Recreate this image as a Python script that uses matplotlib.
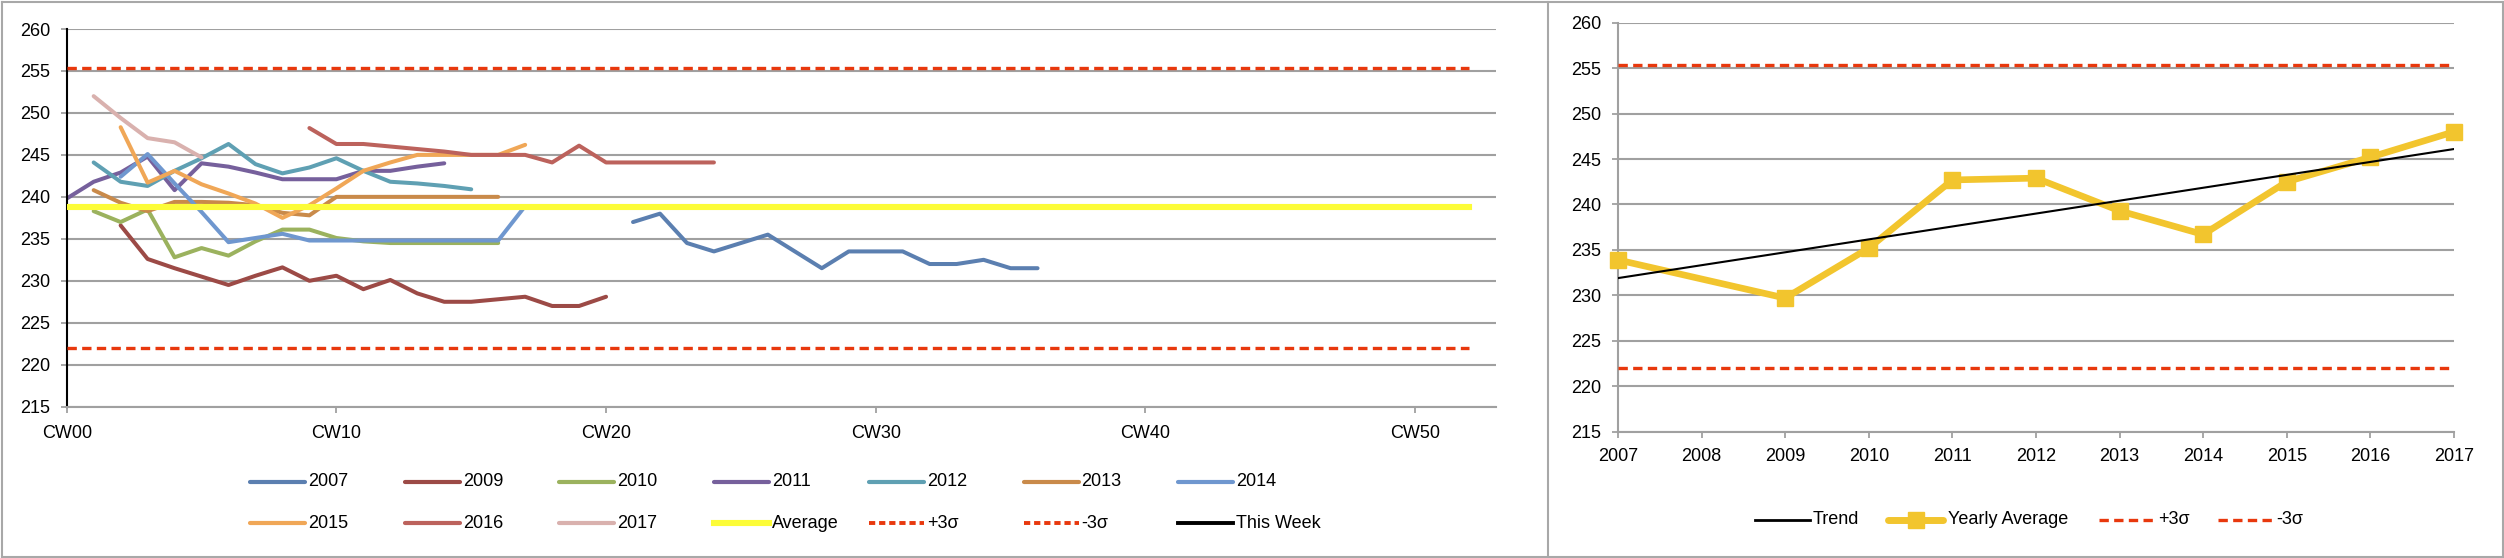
import matplotlib
matplotlib.use('Agg')
import matplotlib.pyplot as plt
from matplotlib.lines import Line2D
import numpy as np

plt.rcParams['font.family'] = ['Liberation Sans', 'DejaVu Sans']
plt.rcParams['font.size'] = 13

# ---------------- data: weekly chart ----------------
week_tick_pos = [0, 10, 20, 30, 40, 50]
week_tick_labels = ['CW00', 'CW10', 'CW20', 'CW30', 'CW40', 'CW50']
n_weeks = 53

y2007_start = 21
y2007 = [237.0, 238.0, 234.5, 233.5, 234.5, 235.5, 233.5, 231.5, 233.5, 233.5,
         233.5, 232.0, 232.0, 232.5, 231.5, 231.5]
y2009_start = 2
y2009 = [236.6, 232.6, 231.5, 230.5, 229.5, 230.6, 231.6, 230.0, 230.6, 229.0,
         230.1, 228.5, 227.5, 227.5, 227.8, 228.1, 227.0, 227.0, 228.1]
y2010_start = 1
y2010 = [238.3, 237.0, 238.5, 232.8, 233.9, 233.0, 234.7, 236.1, 236.1, 235.1,
         234.7, 234.5, 234.5, 234.5, 234.5, 234.5]
y2011_start = 0
y2011 = [239.8, 241.8, 242.9, 244.8, 240.8, 244.0, 243.6, 242.9, 242.1, 242.1,
         242.1, 243.1, 243.1, 243.6, 244.0]
y2012_start = 1
y2012 = [244.1, 241.8, 241.3, 243.1, 244.6, 246.3, 243.9, 242.8, 243.5, 244.6,
         243.1, 241.8, 241.6, 241.3, 240.9]
y2013_start = 1
y2013 = [240.8, 239.3, 238.3, 239.4, 239.4, 239.3, 239.0, 238.1, 237.8, 240.0,
         240.0, 240.0, 240.0, 240.0, 240.0, 240.0]
y2014_start = 2
y2014 = [242.4, 245.1, 241.6, 238.2, 234.6, 235.1, 235.6, 234.8, 234.8, 234.8,
         234.8, 234.8, 234.8, 234.8, 234.8, 238.9]
y2015_start = 2
y2015 = [248.3, 241.7, 243.1, 241.5, 240.4, 239.2, 237.5, 239.0, 241.0, 243.1,
         244.1, 245.0, 245.0, 245.0, 245.0, 246.2]
y2016_start = 9
y2016 = [248.2, 246.3, 246.3, 246.0, 245.7, 245.4, 245.0, 245.0, 245.0, 244.1,
         246.1, 244.1, 244.1, 244.1, 244.1, 244.1]
y2017_start = 1
y2017 = [252.0, 249.4, 247.0, 246.5, 244.7]

average_value = 238.8
plus3sigma = 255.4
minus3sigma = 222.0

# ---------------- data: yearly chart ----------------
years = ['2007', '2008', '2009', '2010', '2011', '2012', '2013', '2014', '2015', '2016', '2017']
yearly_avg = [233.9, np.nan, 229.7, 235.2, 242.7, 242.9, 239.3, 236.7, 242.5, 245.2, 248.0]
trend_years = ['2007', '2017']
trend_vals = [231.9, 246.1]

# ---------------- styles ----------------
W, H = 2504, 558
GRID = '#A0A0A0'
SIG = '#E8380D'
YEL = '#FCFC38'
GOLD = '#F2C52E'
series = [
    ('2007', y2007_start, y2007, '#5B7FB0'),
    ('2009', y2009_start, y2009, '#9C4A46'),
    ('2010', y2010_start, y2010, '#9BB25E'),
    ('2011', y2011_start, y2011, '#76609C'),
    ('2012', y2012_start, y2012, '#5FA0B3'),
    ('2013', y2013_start, y2013, '#C98A4A'),
    ('2014', y2014_start, y2014, '#6F97CF'),
    ('2015', y2015_start, y2015, '#F0A757'),
    ('2016', y2016_start, y2016, '#BC625C'),
    ('2017', y2017_start, y2017, '#D9B1AE'),
]
DASH = (2.8, 1.6)
SER_LW = 2.9

fig = plt.figure(figsize=(W / 100, H / 100), dpi=100)


def fx(x):
    return x / W


def fy(y):
    return 1 - y / H


def style_axes(ax, left_color):
    ax.set_yticks(range(215, 261, 5))
    ax.set_ylim(215, 260)
    ax.yaxis.grid(True, color=GRID, lw=1.5)
    ax.set_axisbelow(True)
    for s in ['top', 'right']:
        ax.spines[s].set_visible(False)
    ax.spines['left'].set_color(left_color)
    ax.spines['left'].set_linewidth(1.5)
    ax.spines['bottom'].set_color(GRID)
    ax.spines['bottom'].set_linewidth(1.5)
    ax.tick_params(axis='both', direction='out', length=4, width=1.3, color=GRID,
                   labelsize=13)
    ax.tick_params(axis='y', pad=8)


# ---------------- left chart ----------------
axL = fig.add_axes([fx(66.7), fy(406.7), fx(1496 - 66.7), (406.7 - 29) / H])
style_axes(axL, 'black')
axL.set_xlim(0, n_weeks)
axL.set_xticks(week_tick_pos)
axL.set_xticklabels(week_tick_labels)
axL.tick_params(axis='x', pad=9)

wk = np.arange(n_weeks)
axL.plot(wk, [average_value] * n_weeks, color=YEL, lw=4.4, zorder=3)
axL.plot(wk, [plus3sigma] * n_weeks, color=SIG, lw=2.4, dashes=DASH, zorder=3)
axL.plot(wk, [minus3sigma] * n_weeks, color=SIG, lw=2.4, dashes=DASH, zorder=3)
for name, start, vals, col in series:
    x = np.arange(start, start + len(vals))
    axL.plot(x, vals, color=col, lw=SER_LW, solid_capstyle='round',
             solid_joinstyle='round', zorder=2)

# ---------------- right chart ----------------
axR = fig.add_axes([fx(1618), fy(431.7), fx(2454 - 1618), (431.7 - 22.7) / H])
style_axes(axR, GRID)
xr = np.arange(len(years))
axR.set_xlim(0, len(years) - 1)
axR.set_xticks(xr)
axR.set_xticklabels(years)
axR.tick_params(axis='x', pad=8)
axR.plot(xr, [plus3sigma] * len(years), color=SIG, lw=2.4, dashes=DASH, zorder=3)
axR.plot(xr, [minus3sigma] * len(years), color=SIG, lw=2.4, dashes=DASH, zorder=3)
ya = np.array(yearly_avg, dtype=float)
m = ~np.isnan(ya)
axR.plot(xr[m], ya[m], color=GOLD, lw=4.8, marker='s', markersize=12,
         markeredgecolor=GOLD, zorder=4, clip_on=False)
tx = [years.index(t) for t in trend_years]
axR.plot(tx, trend_vals, color='black', lw=1.5, zorder=5)

# ---------------- legends (drawn manually to match equal-width entries) ----------------
def leg_line(x0, x1, y, **kw):
    fig.add_artist(Line2D([fx(x0), fx(x1)], [fy(y), fy(y)], transform=fig.transFigure, **kw))


def leg_text(x, y, s):
    fig.text(fx(x), fy(y), s, ha='left', va='center', fontsize=13)


left_entries = [(n, dict(color=c, lw=3.0, solid_capstyle='round')) for n, _, _, c in series]
left_entries += [
    ('Average', dict(color=YEL, lw=4.4)),
    ('+3σ', dict(color=SIG, lw=2.8, dashes=(1.6, 1.0))),
    ('-3σ', dict(color=SIG, lw=2.8, dashes=(1.6, 1.0))),
    ('This Week', dict(color='black', lw=2.8)),
]
for i, (lab, kw) in enumerate(left_entries):
    row, col = divmod(i, 7)
    x0 = 250 + 154.7 * col
    y = 482 if row == 0 else 523
    leg_line(x0, x0 + 55, y, **kw)
    leg_text(x0 + 58, y, lab)

yl = 520
leg_line(1755, 1810, yl, color='black', lw=2.0)
leg_text(1813, yl, 'Trend')
leg_line(1888, 1943, yl, color=GOLD, lw=5, solid_capstyle='round')
fig.add_artist(Line2D([fx(1915.5)], [fy(yl)], transform=fig.transFigure, marker='s',
                      markersize=11, color=GOLD, lw=0))
leg_text(1948, yl, 'Yearly Average')
leg_line(2099, 2155, yl, color=SIG, lw=2.4, dashes=DASH)
leg_text(2158, yl, '+3σ')
leg_line(2218, 2272, yl, color=SIG, lw=2.4, dashes=DASH)
leg_text(2276, yl, '-3σ')

# ---------------- panel borders ----------------
bc = '#A8A8A8'
for xs, ys in [([1.5, 2502.5], [1.5, 1.5]), ([1.5, 2502.5], [556.5, 556.5]),
               ([1.5, 1.5], [1.5, 556.5]), ([2502.5, 2502.5], [1.5, 556.5]),
               ([1548, 1548], [1.5, 556.5])]:
    fig.add_artist(Line2D([fx(v) for v in xs], [fy(v) for v in ys],
                          transform=fig.transFigure, color=bc, lw=1.5))

fig.savefig('out.png', dpi=100)
